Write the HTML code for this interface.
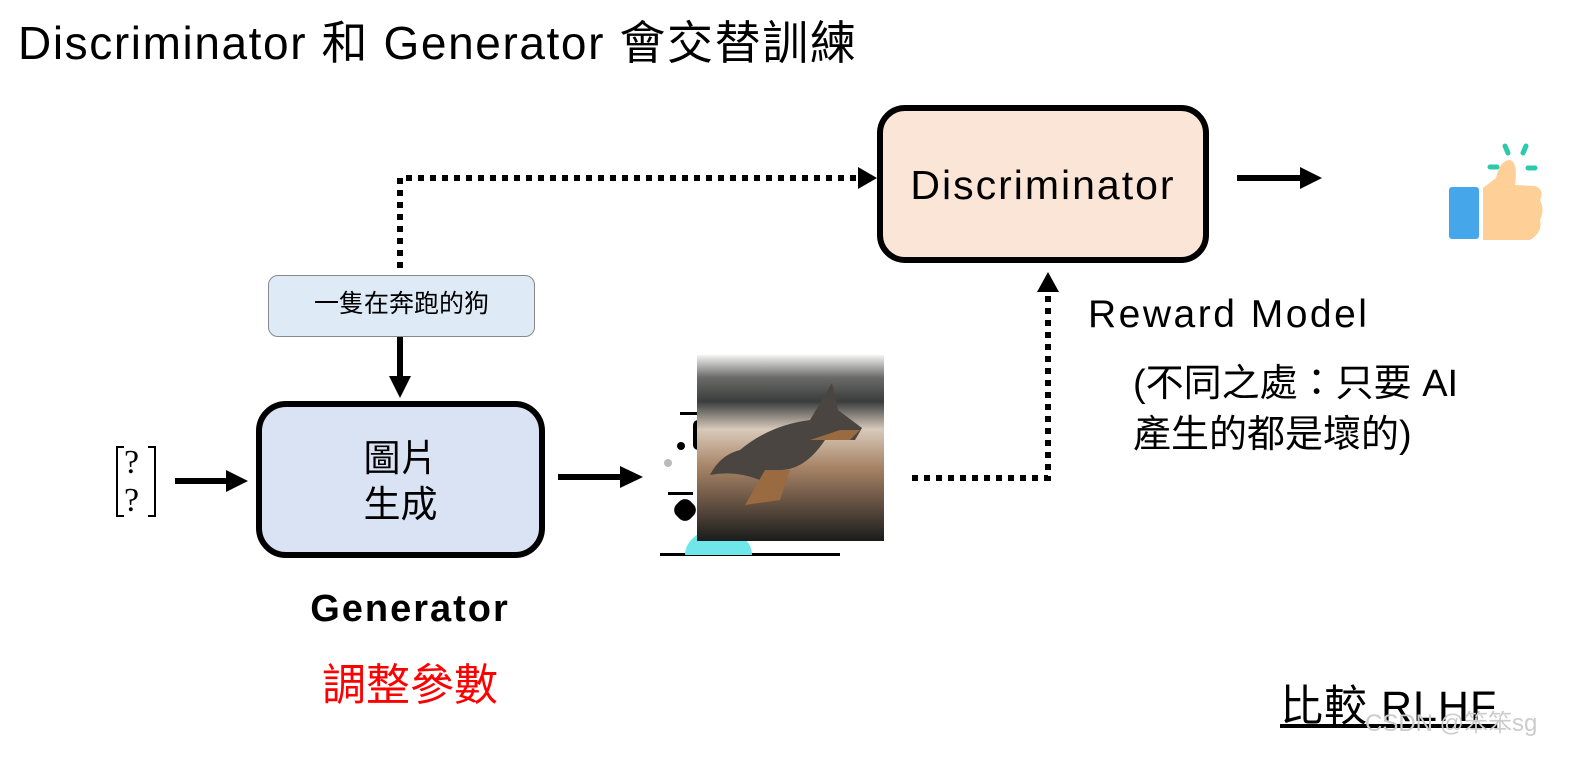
<!DOCTYPE html>
<html><head><meta charset="utf-8"><style>
body{margin:0;width:1594px;height:765px;background:#fff;position:relative;overflow:hidden;font-family:"Liberation Sans","Noto Sans CJK TC",sans-serif;}
.t{position:absolute;white-space:nowrap;line-height:1;}
.box{position:absolute;box-sizing:border-box;}
</style></head><body>
<div class="t" style="left:18px;top:20px;font-size:46px;letter-spacing:1.6px;">Discriminator 和 Generator 會交替訓練</div>

<div class="box" style="left:877px;top:105px;width:332px;height:158px;border:6px solid #000;border-radius:28px;background:#fbe5d6;"></div>
<div class="t" style="left:877px;width:332px;text-align:center;top:165px;font-size:41px;letter-spacing:2px;">Discriminator</div>

<div class="box" style="left:268px;top:275px;width:267px;height:62px;border:1.5px solid #888;border-radius:10px;background:#deebf7;"></div>
<div class="t" style="left:268px;width:267px;text-align:center;top:292px;font-size:25px;">一隻在奔跑的狗</div>

<div class="box" style="left:256px;top:401px;width:289px;height:157px;border:6px solid #000;border-radius:30px;background:#dae3f3;"></div>
<div class="t" style="left:256px;width:289px;text-align:center;top:436px;font-size:37px;line-height:46px;">圖片<br>生成</div>

<div class="t" style="left:124px;top:446px;font-family:'Liberation Serif',serif;font-size:34px;">?</div>
<div class="t" style="left:124px;top:484px;font-family:'Liberation Serif',serif;font-size:34px;">?</div>

<svg width="1594" height="765" style="position:absolute;left:0;top:0">
<g stroke="#000" stroke-width="2" fill="none">
<path d="M124 447 H117 V516 H124"/>
<path d="M148 447 H155 V516 H148"/>
</g>
<g stroke="#000" stroke-width="6" fill="none">
<path d="M400 268 V178 H858" stroke-dasharray="6 6"/>
<path d="M912 478 H1048 V292" stroke-dasharray="6 6"/>
<path d="M175 481 H228"/>
<path d="M558 477 H622"/>
<path d="M1237 178 H1302"/>
<path d="M400 337 V378"/>
</g>
<g fill="#000">
<polygon points="858,167 877,178 858,189"/>
<polygon points="1037,292 1048,272 1059,292"/>
<polygon points="226,470 248,481 226,492"/>
<polygon points="620,466 643,477 620,488"/>
<polygon points="1300,167 1322,178 1300,189"/>
<polygon points="389,376 400,398 411,376"/>
</g>
<g fill="#000">
<rect x="693" y="420" width="10" height="30" rx="5"/>
<circle cx="681" cy="446" r="4"/>
<rect x="680" y="412" width="20" height="3"/>
<rect x="668" y="492" width="25" height="3"/>
<rect x="675" y="500" width="20" height="20" rx="8" transform="rotate(-45 685 510)"/>
<rect x="660" y="553" width="180" height="3"/>
</g>
<circle cx="668" cy="463" r="4" fill="#bbb"/>
<path d="M685 555 A32 25 0 0 1 752 555 Z" fill="#6ee6ea"/>
<defs>
<linearGradient id="g" x1="0" y1="0" x2="0" y2="1">
<stop offset="0" stop-color="#f4f4f2"/><stop offset="0.12" stop-color="#6b6b69"/><stop offset="0.25" stop-color="#3a3d3d"/><stop offset="0.4" stop-color="#d8cabb"/><stop offset="0.6" stop-color="#a88466"/><stop offset="0.78" stop-color="#6a5545"/><stop offset="1" stop-color="#1a1c1c"/>
</linearGradient></defs>
<rect x="697" y="355" width="187" height="186" fill="url(#g)"/>
<path d="M740 450 Q770 425 810 420 L825 395 L832 383 L838 410 L862 428 L855 440 L825 440 Q805 470 780 470 L770 500 L745 505 L760 480 Q735 470 710 475 Q720 455 740 450Z" fill="#4a4540"/>
<path d="M765 470 L790 470 L780 500 L745 505Z M810 440 L840 430 L860 430 L850 440Z" fill="#9a6a40"/>
<rect x="1449" y="187" width="30" height="52" rx="3" fill="#46a6ea"/>
<path d="M1483 188 L1496 178 Q1500 160 1510 160 Q1518 162 1515 185 L1535 186 Q1545 190 1540 200 Q1545 210 1540 220 Q1543 232 1530 240 L1483 240Z" fill="#fecf96"/>
<g stroke="#2cc9ab" stroke-width="5" stroke-linecap="round">
<path d="M1526 146 L1523 153"/><path d="M1505 146 L1508 153"/><path d="M1490 167 L1497 167"/><path d="M1528 168 L1535 168"/>
</g>
</svg>

<div class="t" style="left:1088px;top:295px;font-size:39px;letter-spacing:2.5px;">Reward Model</div>
<div class="t" style="left:1133px;top:365px;font-size:38px;">(不同之處：只要 AI</div>
<div class="t" style="left:1133px;top:416px;font-size:38px;">產生的都是壞的)</div>
<div class="t" style="left:256px;width:308px;text-align:center;top:590px;font-size:38px;font-weight:bold;letter-spacing:2px;">Generator</div>
<div class="t" style="left:256px;width:308px;text-align:center;top:664px;font-size:44px;color:#f00;">調整參數</div>
<div class="t" style="left:1280px;top:686px;font-size:43px;text-decoration:underline;letter-spacing:1px;">比較 RLHF</div>
<div class="t" style="left:1365px;top:712px;font-size:24px;color:#ccc;">CSDN @笨笨sg</div>
</body></html>
